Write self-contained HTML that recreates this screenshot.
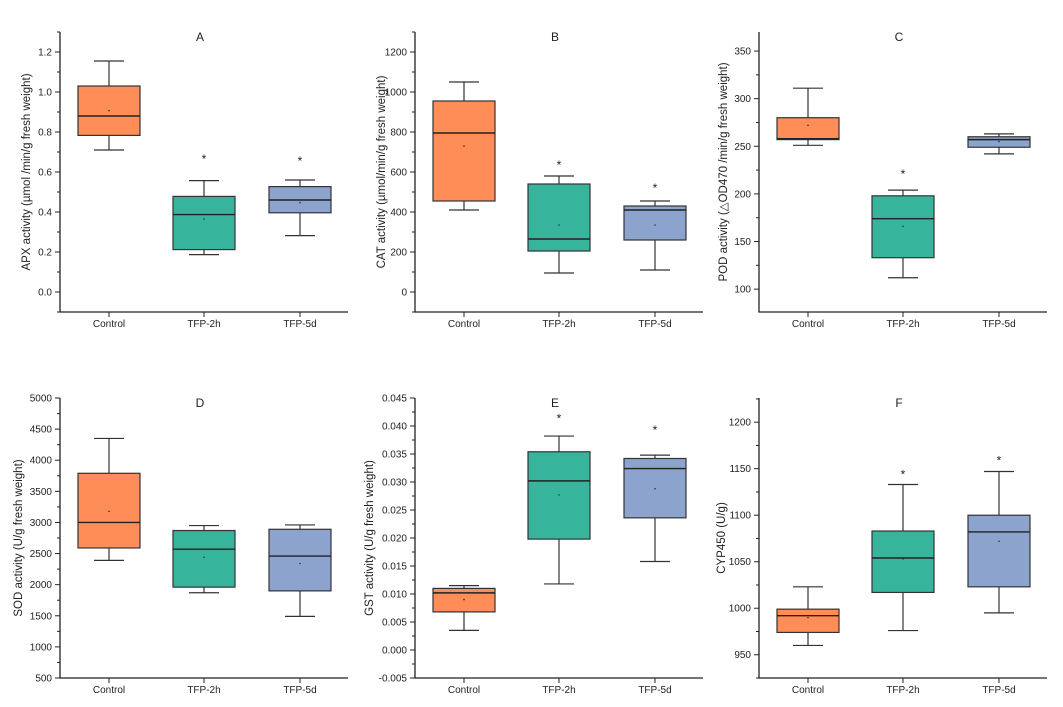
<!DOCTYPE html>
<html><head><meta charset="utf-8"><style>
body{margin:0;background:#fff;}
svg{display:block;font-family:"Liberation Sans",Arial,sans-serif;}
</style></head><body>
<svg id="c" width="1063" height="707" viewBox="0 0 1063 707"></svg>
<script>
const categories=["Control","TFP-2h","TFP-5d"];
const panelTitles=["A","B","C","D","E","F"];
const yTitles=["APX activity (µmol /min/g fresh weight)","CAT activity (µmol/min/g fresh weight)","POD activity (\u25B3OD470 /min/g fresh weight)","SOD activity (U/g fresh weight)","GST activity (U/g fresh weight)","CYP450 (U/g)"];
const yDomains=[[-0.1,1.3],[-100,1300],[76,370],[500,5000],[-0.005,0.045],[925,1226]];
const yTicks=[[0,0.2,0.4,0.6,0.8,1.0,1.2],[0,200,400,600,800,1000,1200],[100,150,200,250,300,350],[500,1000,1500,2000,2500,3000,3500,4000,4500,5000],[-0.005,0,0.005,0.01,0.015,0.02,0.025,0.03,0.035,0.04,0.045],[950,1000,1050,1100,1150,1200]];
const tickDecimals=[1,0,0,0,3,0];
// [whiskerLow, q1, median, q3, whiskerHigh, mean]
const dataA=[[0.71,0.783,0.88,1.03,1.155,0.907],[0.187,0.212,0.387,0.478,0.557,0.365],[0.282,0.396,0.46,0.527,0.56,0.447]];
const dataB=[[410,455,795,955,1050,730],[95,205,265,540,580,335],[110,260,410,430,455,335]];
const dataC=[[251,257,258,280,311,272],[112,133,174,198,204,166],[242,249,257,260,263,255]];
const dataD=[[2390,2590,3000,3790,4350,3180],[1870,1960,2570,2870,2950,2440],[1490,1900,2460,2890,2960,2340]];
const dataE=[[0.0035,0.0068,0.0102,0.011,0.0115,0.009],[0.0118,0.0198,0.0302,0.0354,0.0382,0.0277],[0.0158,0.0236,0.0324,0.0342,0.0348,0.0288]];
const dataF=[[960,974,992,999,1023,990],[976,1017,1054,1083,1133,1053],[995,1023,1082,1100,1147,1072]];
const allData=[dataA,dataB,dataC,dataD,dataE,dataF];
const stars=[[null,0.67,0.66],[null,640,525],[null,222,null],[null,null,null],[null,0.0415,0.0395],[null,1145,1160]];
const colors=["#FF8D57","#37B59C","#8BA3CD"];
const colX=[60,415,759], rowY=[32,398], W=288, H=280, catOff=[49,144,240], halfBox=31;
const titleX=[30,385,727,22,373,725];
const svg=document.getElementById('c');
const NS="http://www.w3.org/2000/svg";
function el(t,a,p){const e=document.createElementNS(NS,t);for(const k in a)e.setAttribute(k,a[k]);(p||svg).appendChild(e);return e;}
for(let p=0;p<6;p++){
  const x0=colX[p%3], y0=rowY[Math.floor(p/3)];
  const [d0,d1]=yDomains[p];
  const ys=v=>y0+H-(v-d0)/(d1-d0)*H;
  const xs=i=>x0+catOff[i];
  const g=el('g',{});
  
  
  const ax=el('path',{d:`M${x0} ${y0}V${y0+H}H${x0+W}`,stroke:'#222',fill:'none','stroke-width':1.3},g);
  
  
  const tk=yTicks[p];
  tk.forEach((v,i)=>{
    const y=ys(v);
    el('line',{x1:x0-5,x2:x0,y1:y,y2:y,stroke:'#222'},g);
    const t=el('text',{x:x0-8,y:y+3.5,'text-anchor':'end','font-size':10,fill:'#222'},g);
    t.textContent=v.toFixed(tickDecimals[p]);
    
    
    const step=tk[1]-tk[0];
    const mv=v+step/2;
    if(ys(mv)>=y0) el('line',{x1:x0-3,x2:x0,y1:ys(mv),y2:ys(mv),stroke:'#222'},g);
    if(i==0&&ys(v-step/2)<=y0+H) el('line',{x1:x0-3,x2:x0,y1:ys(v-step/2),y2:ys(v-step/2),stroke:'#222'},g);
  });
  const tt=el('text',{x:x0+W/2-4,y:y0+9,'text-anchor':'middle','font-size':12,fill:'#222'},g);
  tt.textContent=panelTitles[p];
  
  
  const yt=el('text',{transform:`translate(${titleX[p]},${y0+H/2}) rotate(-90)`,'text-anchor':'middle','font-size':11.5,fill:'#222'},g);
  yt.textContent=yTitles[p];
  
  
  allData[p].forEach((d,i)=>{
    const cx=xs(i);
    el('line',{x1:cx,x2:cx,y1:y0+H,y2:y0+H+5,stroke:'#222'},g);
    const lb=el('text',{x:cx,y:y0+H+15,'text-anchor':'middle','font-size':10,fill:'#222'},g);
    lb.textContent=categories[i];
    
    
    const [wl,q1,md,q3,wh,mn]=d;
    const bx=el('g',{},g);
    
    
    el('line',{x1:cx,x2:cx,y1:ys(wh),y2:ys(q3),stroke:'#333','stroke-width':1.2},bx);
    el('line',{x1:cx,x2:cx,y1:ys(q1),y2:ys(wl),stroke:'#333','stroke-width':1.2},bx);
    el('line',{x1:cx-15,x2:cx+15,y1:ys(wh),y2:ys(wh),stroke:'#333','stroke-width':1.2},bx);
    el('line',{x1:cx-15,x2:cx+15,y1:ys(wl),y2:ys(wl),stroke:'#333','stroke-width':1.2},bx);
    el('rect',{x:cx-halfBox,y:ys(q3),width:2*halfBox,height:ys(q1)-ys(q3),fill:colors[i],stroke:'#333','stroke-width':1.2},bx);
    el('line',{x1:cx-halfBox,x2:cx+halfBox,y1:ys(md),y2:ys(md),stroke:'#222','stroke-width':1.4},bx);
    el('circle',{cx:cx,cy:ys(mn),r:0.8,fill:'#333'},bx);
    const s=stars[p][i];
    if(s!==null){const st=el('text',{x:cx,y:ys(s)+5,'text-anchor':'middle','font-size':12,fill:'#222'},bx);st.textContent='*';
      
      }
  });
}
</script>
</body></html>
